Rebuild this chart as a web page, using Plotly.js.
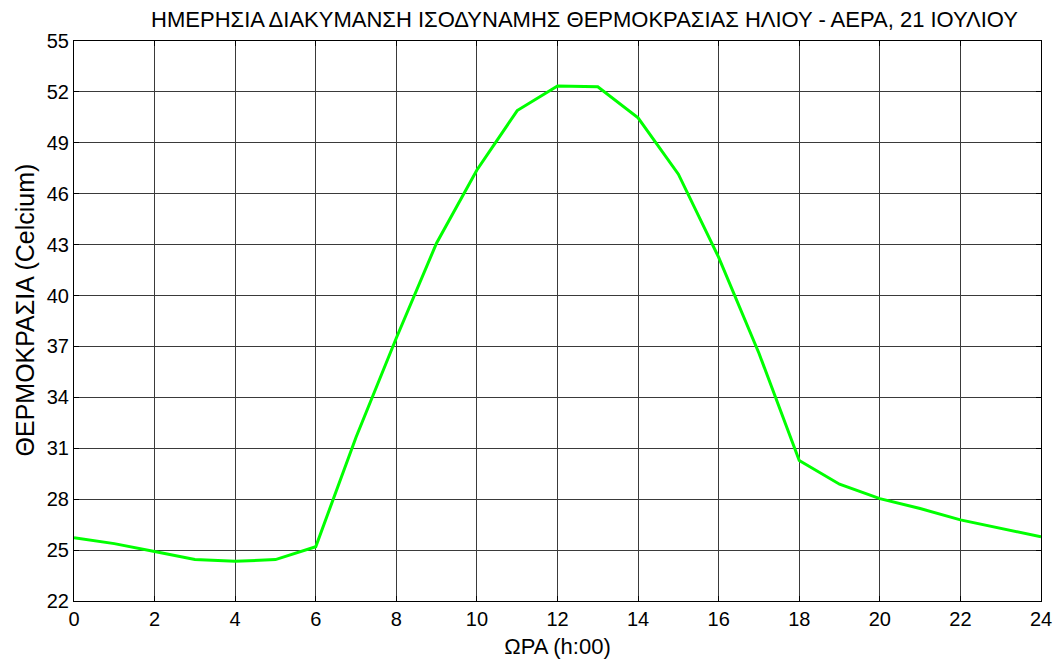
<!DOCTYPE html>
<html>
<head>
<meta charset="utf-8">
<script src="https://cdn.plot.ly/plotly-3.0.1.min.js"></script>
<style>html,body{margin:0;padding:0;background:#fff;}#chart{width:1057px;height:664px;}</style>
</head>
<body>
<div id="chart"></div>
<script>
const hours = [0,1,2,3,4,5,6,7,8,9,10,11,12,13,14,15,16,17,18,19,20,21,22,23,24];
const temperature = [25.73,25.38,24.92,24.44,24.34,24.44,25.2,31.65,37.5,43.1,47.4,50.9,52.35,52.3,50.47,47.15,42.25,36.6,30.28,28.88,28.03,27.45,26.78,26.3,25.78];
const xTicks = [0,2,4,6,8,10,12,14,16,18,20,22,24];
const yTicks = [22,25,28,31,34,37,40,43,46,49,52,55];

const fam = 'Liberation Sans, Arial, sans-serif';
const tickFont = {family: fam, size: 20, color: '#000'};

const trace = {
  x: hours, y: temperature, type: 'scatter', mode: 'lines',
  line: {color: '#00ff00', width: 3},
  hoverinfo: 'x+y'
};

const axisCommon = {
  showgrid: true, gridcolor: '#3a3a3a', gridwidth: 1,
  zeroline: false, showline: true, linecolor: '#000', linewidth: 1,
  mirror: 'ticks', ticks: 'inside', ticklen: 5, tickcolor: '#000', tickwidth: 1,
  tickfont: tickFont
};

const layout = {
  width: 1057, height: 664,
  margin: {l: 74, r: 16, t: 41, b: 63},
  paper_bgcolor: '#fff', plot_bgcolor: '#fff',
  font: {family: fam, size: 20, color: '#000'},
  showlegend: false,
  title: {text: 'ΗΜΕΡΗΣΙΑ ΔΙΑΚΥΜΑΝΣΗ ΙΣΟΔΥΝΑΜΗΣ ΘΕΡΜΟΚΡΑΣΙΑΣ ΗΛΙΟΥ - ΑΕΡΑ, 21 ΙΟΥΛΙΟΥ',
         font: {family: fam, size: 22, color: '#000'}, x: 0.553, xanchor: 'center', y: 0.971, yanchor: 'middle'},
  xaxis: Object.assign({}, axisCommon, {
    range: [0, 24], tickmode: 'array', tickvals: xTicks, ticktext: xTicks.map(String),
    title: {text: 'ΩΡΑ (h:00)', font: {family: fam, size: 22, color: '#000'}, standoff: 9}
  }),
  yaxis: Object.assign({}, axisCommon, {
    range: [22, 55], tickmode: 'array', tickvals: yTicks, ticktext: yTicks.map(String),
    title: {text: ''}
  }),
  annotations: [{
    text: 'ΘΕΡΜΟΚΡΑΣΙΑ (Celcium)', textangle: -90, showarrow: false,
    xref: 'paper', yref: 'paper', x: -0.051, y: 0.52, xanchor: 'center', yanchor: 'middle',
    font: {family: fam, size: 25, color: '#000'}
  }]
};

Plotly.newPlot('chart', [trace], layout, {displayModeBar: false, staticPlot: true});
</script>
</body>
</html>
